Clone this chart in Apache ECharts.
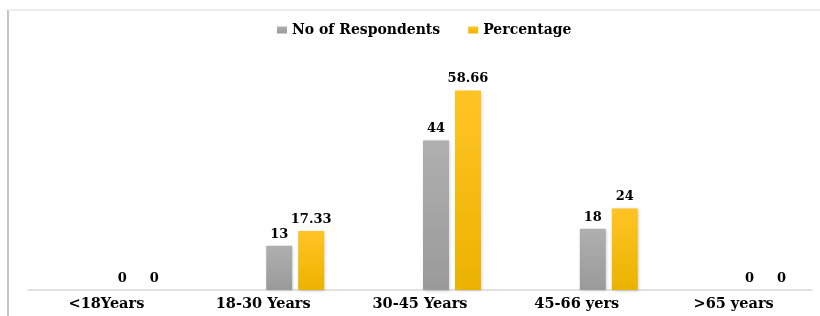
<!DOCTYPE html>
<html>
<head>
<meta charset="utf-8">
<script src="https://cdn.jsdelivr.net/npm/echarts@6/dist/echarts.min.js"></script>
<style>html,body{margin:0;padding:0;background:#fff}#c{width:820px;height:316px}</style>
</head>
<body>
<div id="c"></div>
<script>
const categories = ['<18Years', '18-30 Years', '30-45 Years', '45-66 yers', '>65 years'];
const respondents = [0, 13, 44, 18, 0];
const percentage = [0, 17.33, 58.66, 24, 0];
const spacer = ['-', '-', '-', '-', '-'];

const font = 'DejaVu Serif';
const chart = echarts.init(document.getElementById('c'));
const labelStyle = {show: true, position: 'top', distance: 5, color: '#000', fontFamily: font, fontWeight: 'bold', fontSize: 13};
chart.setOption({
  animation: false,
  graphic: [
    {type: 'line', shape: {x1: 8, y1: 10, x2: 8, y2: 316}, style: {stroke: '#c4c4c4', lineWidth: 2}},
    {type: 'line', shape: {x1: 8, y1: 10, x2: 820, y2: 10}, style: {stroke: '#ececec', lineWidth: 2}}
  ],
  legend: {
    data: ['No of Respondents', 'Percentage'],
    top: 18, left: 272,
    icon: 'rect', itemWidth: 10, itemHeight: 7, itemGap: 28,
    textStyle: {fontFamily: font, fontWeight: 'bold', fontSize: 14, color: '#000'}
  },
  grid: {left: 28, right: 8, top: 52, bottom: 26, containLabel: false},
  xAxis: {
    type: 'category', data: categories,
    axisLine: {lineStyle: {color: '#d9d9d9', width: 1.5}},
    axisTick: {show: false},
    axisLabel: {margin: 7, color: '#000', fontFamily: font, fontWeight: 'bold', fontSize: 14.5}
  },
  yAxis: {type: 'value', min: 0, max: 70, show: false, splitLine: {show: false}},
  series: [
    {name: 'spacer', type: 'bar', data: spacer, barWidth: 52, barGap: '23%', silent: true, itemStyle: {color: 'transparent'}},
    {name: 'No of Respondents', type: 'bar', data: respondents, barWidth: 26, barGap: '23%',
      itemStyle: {color: new echarts.graphic.LinearGradient(0, 0, 0, 1, [{offset: 0, color: '#afafaf'}, {offset: 1, color: '#9a9a9a'}]),
        shadowBlur: 3, shadowColor: 'rgba(0,0,0,0.2)', shadowOffsetX: 1, shadowOffsetY: 1},
      label: labelStyle},
    {name: 'Percentage', type: 'bar', data: percentage, barWidth: 26, barGap: '23%',
      itemStyle: {color: new echarts.graphic.LinearGradient(0, 0, 0, 1, [{offset: 0, color: '#ffc424'}, {offset: 1, color: '#ebb300'}]),
        shadowBlur: 3, shadowColor: 'rgba(0,0,0,0.2)', shadowOffsetX: 1, shadowOffsetY: 1},
      label: labelStyle}
  ]
});
</script>
</body>
</html>
